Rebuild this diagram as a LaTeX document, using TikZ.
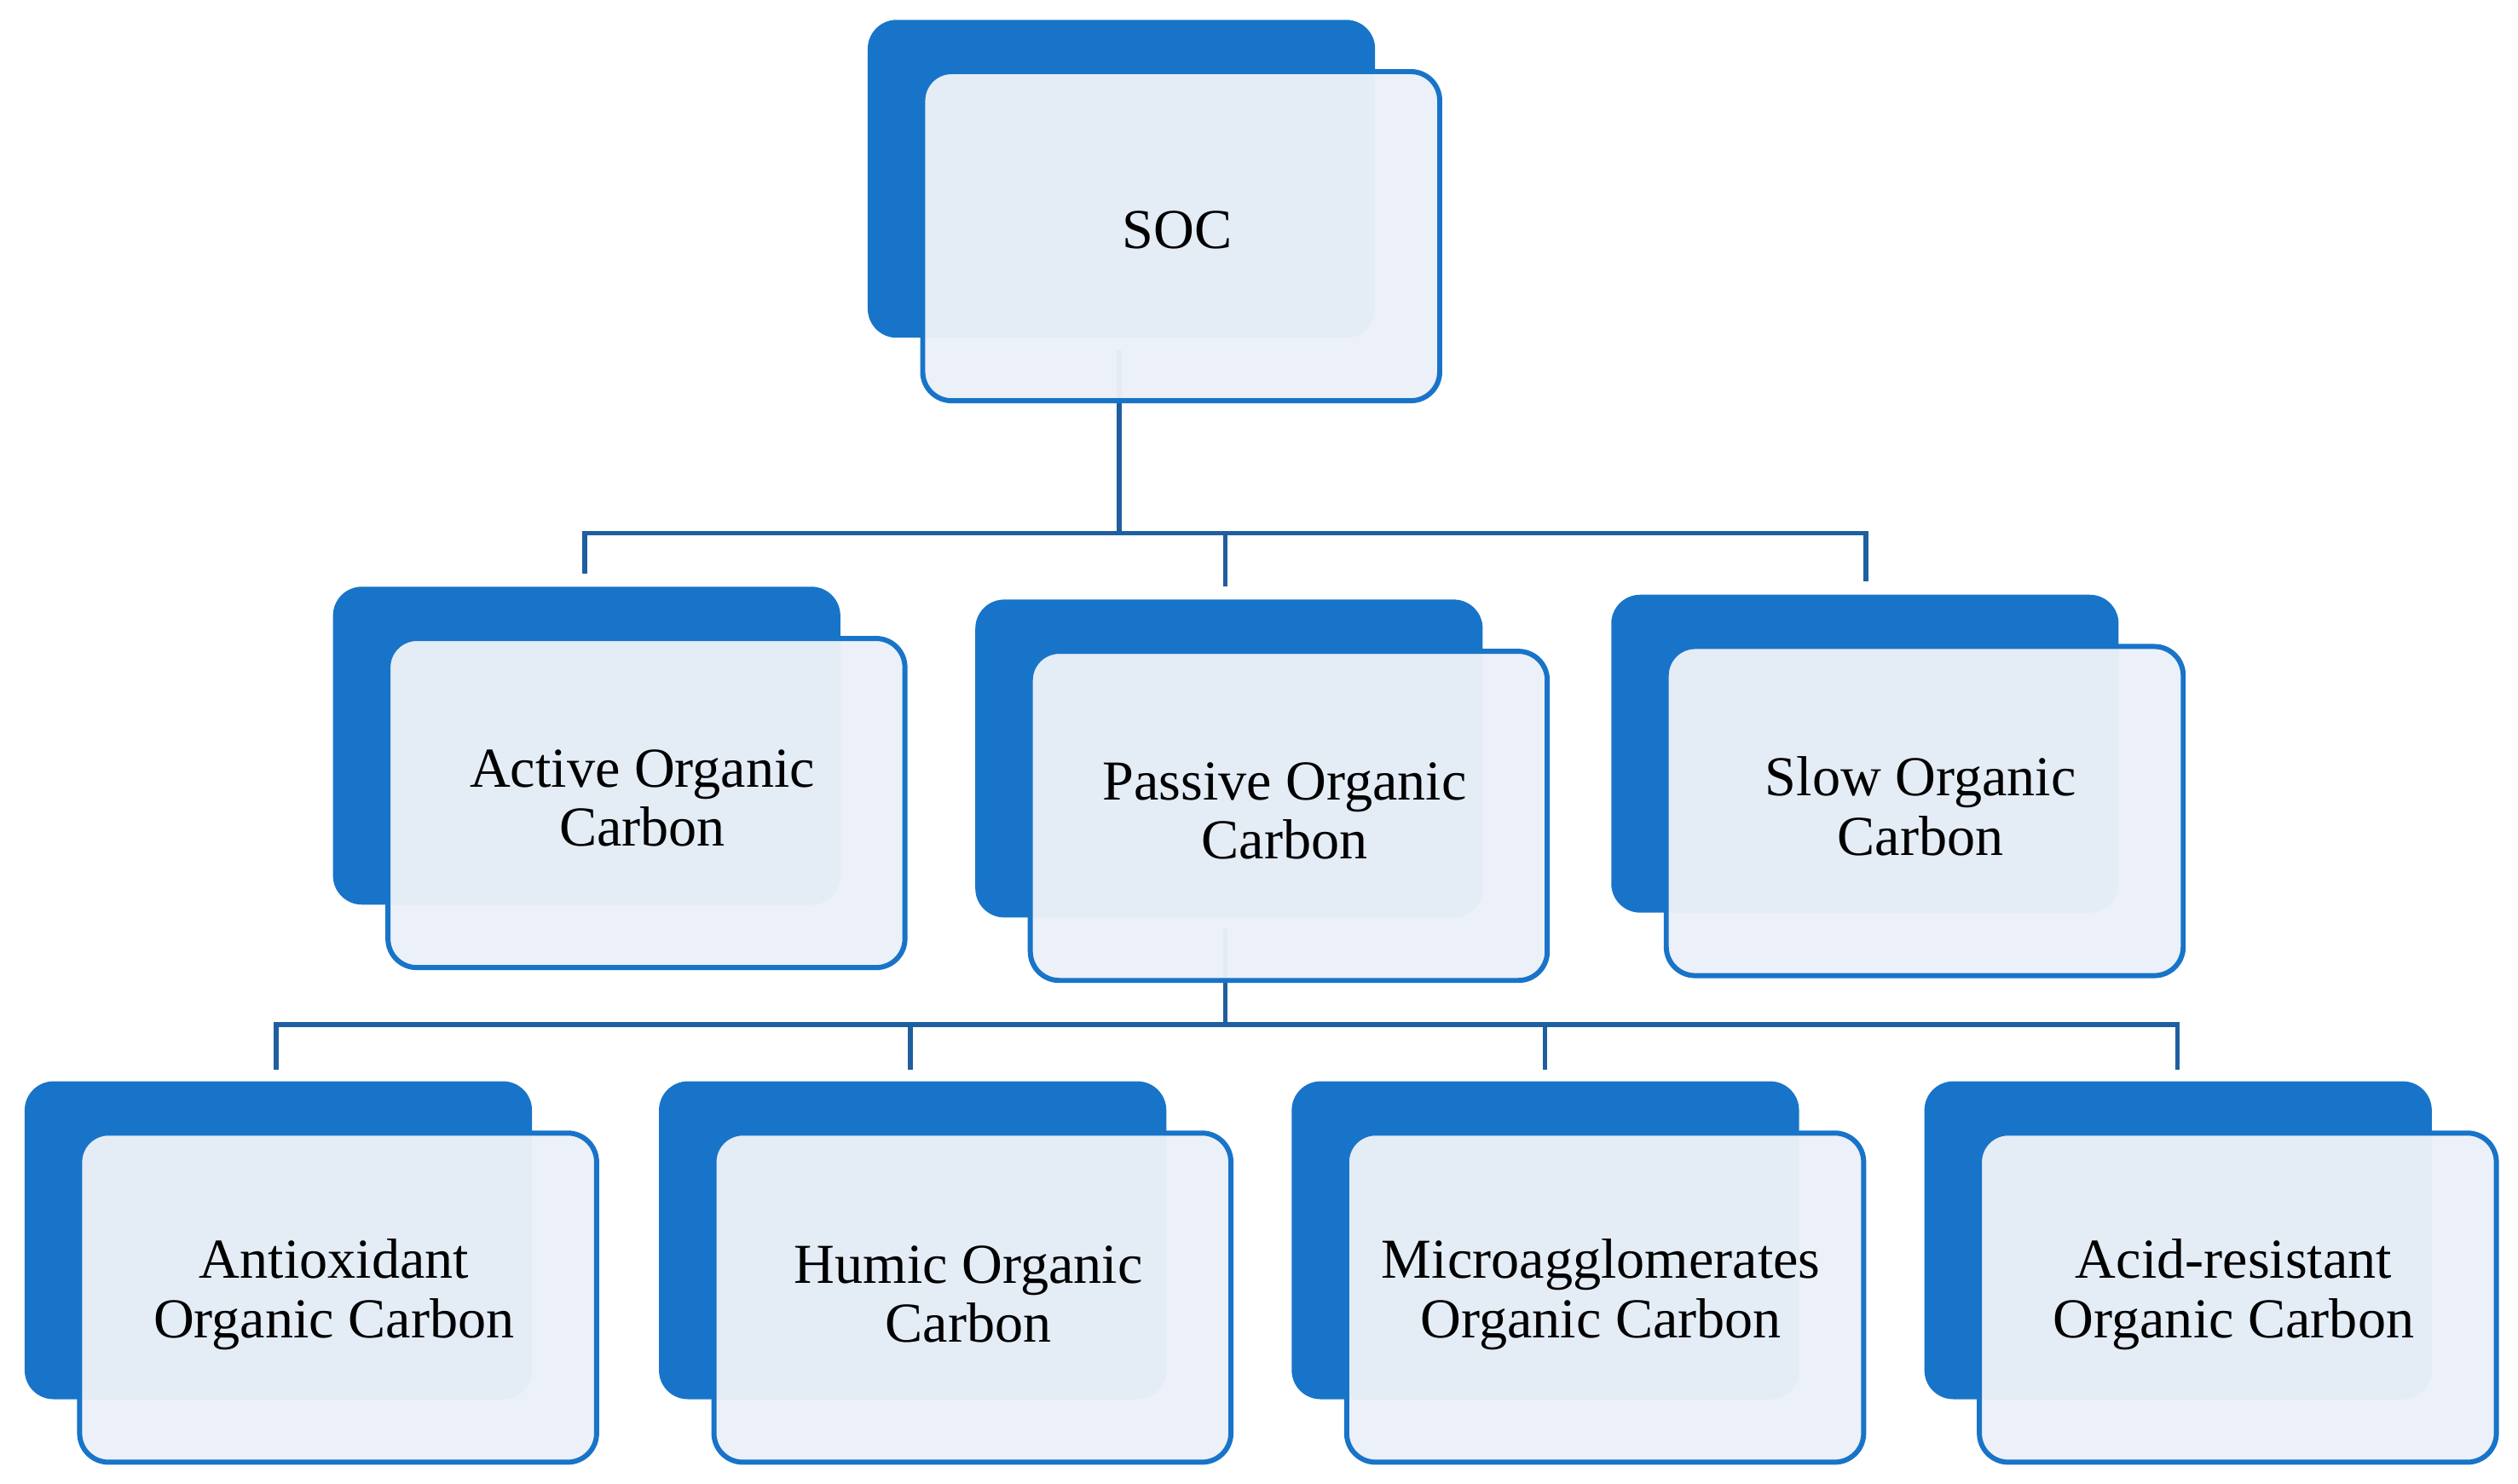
\documentclass[tikz,border=0pt]{standalone}
\usepackage{fontspec}
\setmainfont{Liberation Serif}
\definecolor{dark}{HTML}{1874C8}
\definecolor{light}{HTML}{EBF0F8}
\definecolor{conn}{HTML}{1F5FA0}
\begin{document}
\begin{tikzpicture}[x=0.02cm,y=-0.02cm,
  back/.style={draw=none,fill=dark,rounded corners=0.36cm,minimum width=6.32cm,minimum height=3.96cm,anchor=north west},
  front/.style={draw=dark,line width=1.8pt,fill=light,fill opacity=0.97,text opacity=1,rounded corners=0.36cm,minimum width=6.44cm,minimum height=4.1cm,anchor=north west},
  lbl/.style={font=\fontsize{20}{21}\selectfont,align=center},
  conn/.style={draw=conn,line width=1.7pt}]
\useasboundingbox (0,0) rectangle (1568,924);
\newcommand\pairbox[4]{%
  \node[back] (#1b) at (#2,#3) {};
  \node[front] (#1) at (#2+33,#3+31) {};
  \node[lbl] (#1t) at (#2+193,#3+#4) {\csname txt#1\endcsname};}
% connectors
\coordinate (s0) at (697,218);
\coordinate (s1) at (697,332);
\coordinate (a0) at (364,357);
\coordinate (p0) at (763,365);
\coordinate (l0) at (1162,362);
\draw[conn] (s0) -- (s1);
\draw[conn] (a0) -- (a0|-s1) -- (l0|-s1) -- (l0);
\draw[conn] (p0|-s1) -- (p0);
\coordinate (q0) at (763,578);
\coordinate (q1) at (763,638);
\coordinate (c1) at (172,666);
\coordinate (c2) at (567,666);
\coordinate (c3) at (962,666);
\coordinate (c4) at (1356,666);
\draw[conn] (q0) -- (q1);
\draw[conn] (c1) -- (c1|-q1) -- (c4|-q1) -- (c4);
\draw[conn] (c2|-q1) -- (c2);
\draw[conn] (c3|-q1) -- (c3);
\def\txtsoc{SOC}
\def\txtact{Active Organic\\Carbon}
\def\txtpas{Passive Organic\\Carbon}
\def\txtslo{Slow Organic\\Carbon}
\def\txtant{Antioxidant\\Organic Carbon}
\def\txthum{Humic Organic\\Carbon}
\def\txtmic{Microagglomerates\\Organic Carbon}
\def\txtaci{Acid-resistant\\Organic Carbon}
\pairbox{soc}{540}{12}{131}
\pairbox{act}{207}{365}{132}
\pairbox{pas}{607}{373}{132}
\pairbox{slo}{1003}{370}{132}
\pairbox{ant}{15}{673}{133}
\pairbox{hum}{410}{673}{133}
\pairbox{mic}{804}{673}{133}
\pairbox{aci}{1198}{673}{133}
\end{tikzpicture}
\end{document}
